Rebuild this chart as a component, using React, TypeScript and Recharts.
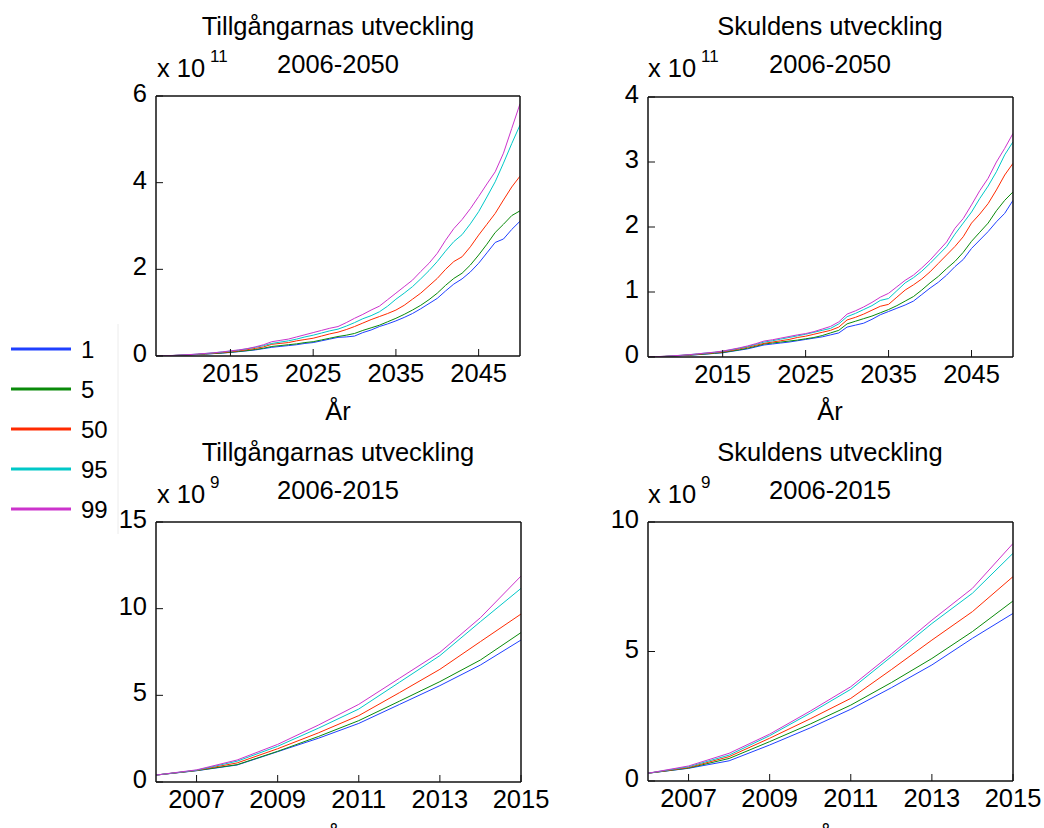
import { LineChart, Line, XAxis, YAxis, Legend } from "recharts";

const FONT = '"Liberation Sans", Arial, Helvetica, sans-serif';

const years = [
  2006, 2007, 2008, 2009, 2010, 2011, 2012, 2013, 2014, 2015,
  2016, 2017, 2018, 2019, 2020, 2021, 2022, 2023, 2024, 2025,
  2026, 2027, 2028, 2029, 2030, 2031, 2032, 2033, 2034, 2035,
  2036, 2037, 2038, 2039, 2040, 2041, 2042, 2043, 2044, 2045,
  2046, 2047, 2048, 2049, 2050,
];

const percentiles = ["1", "5", "50", "95", "99"];
const colors = ["#1f40ff", "#0a8a0a", "#ff2a00", "#00c8c8", "#cc33cc"];

// assets, in units of 10^9
const assets1 = [0.4, 0.65, 0.98, 1.75, 2.52, 3.38, 4.47, 5.56, 6.75, 8.19, 10, 12, 14, 17, 20, 22, 24, 26, 29, 31, 35, 39, 43, 44, 46, 54, 60, 68, 74, 81, 89, 98, 109, 121, 133, 150, 166, 178, 194, 214, 238, 262, 270, 292, 311];
const assets5 = [0.4, 0.66, 1.0, 1.77, 2.62, 3.54, 4.66, 5.79, 7.04, 8.62, 10.5, 12.5, 15, 18, 22, 24, 26, 28, 31, 33, 37, 41, 45, 48, 52, 59, 65, 71, 79, 87, 96, 106, 117, 130, 145, 163, 179, 191, 210, 233, 258, 285, 304, 324, 335];
const assets50 = [0.4, 0.67, 1.1, 1.92, 2.83, 3.83, 5.15, 6.5, 8.1, 9.69, 12, 14.5, 17.5, 21, 27, 29, 31, 35, 38, 41, 46, 51, 55, 61, 68, 76, 84, 91, 98, 106, 117, 131, 145, 162, 179, 200, 218, 229, 252, 279, 304, 329, 360, 390, 415];
const assets95 = [0.4, 0.68, 1.2, 2.06, 3.1, 4.21, 5.75, 7.29, 9.25, 11.17, 13.5, 16.5, 20, 24, 29, 32, 35, 39, 44, 48, 53, 58, 62, 69, 77, 86, 93, 102, 115, 131, 145, 160, 178, 197, 218, 242, 264, 280, 305, 333, 367, 402, 445, 490, 533];
const assets99 = [0.4, 0.7, 1.27, 2.17, 3.28, 4.48, 5.98, 7.48, 9.48, 11.88, 14, 17, 21, 26, 33, 36, 39, 44, 49, 54, 59, 64, 68, 77, 87, 96, 106, 115, 130, 145, 160, 175, 195, 214, 237, 267, 294, 315, 340, 368, 397, 425, 468, 525, 582];

// debt, in units of 10^9
const debt1 = [0.3, 0.49, 0.78, 1.39, 2.05, 2.77, 3.6, 4.48, 5.51, 6.47, 8.5, 10.5, 12.5, 15.5, 18.5, 20, 21.5, 23, 25, 27, 29, 31, 34, 37, 46, 49, 52, 58, 65, 70, 75, 80, 86, 96, 106, 115, 126, 139, 150, 167, 180, 193, 208, 221, 241];
const debt5 = [0.3, 0.5, 0.87, 1.52, 2.2, 2.93, 3.8, 4.73, 5.77, 6.95, 9, 11, 13.5, 16.5, 20, 21.5, 23, 24.5, 26, 28, 30, 33, 37, 41, 51, 55, 59, 63, 68, 73, 79, 86, 93, 103, 114, 124, 136, 147, 161, 178, 192, 206, 225, 241, 254];
const debt50 = [0.3, 0.52, 0.94, 1.65, 2.4, 3.19, 4.3, 5.44, 6.54, 7.89, 10, 12.5, 15, 18, 21, 23, 25, 27, 30, 32, 35, 38, 41, 46, 57, 61, 66, 72, 78, 81, 92, 103, 111, 120, 131, 144, 157, 170, 185, 206, 220, 236, 257, 280, 298];
const debt95 = [0.3, 0.55, 1.0, 1.75, 2.62, 3.54, 4.8, 6.08, 7.25, 8.79, 11, 13.5, 16, 19.5, 23, 25, 27.5, 30, 32.5, 35, 38, 41, 44, 51, 62, 67, 73, 79, 87, 90, 102, 114, 122, 132, 144, 157, 170, 189, 206, 223, 244, 263, 285, 311, 331];
const debt99 = [0.3, 0.58, 1.07, 1.81, 2.7, 3.64, 4.9, 6.21, 7.44, 9.17, 11.5, 14, 17, 20.5, 24.6, 26.5, 29, 31.5, 34, 36, 39, 43, 47, 54, 66, 71, 77, 84, 92, 98, 108, 118, 126, 137, 149, 163, 177, 198, 213, 234, 256, 275, 300, 321, 344];

const assetSeries = [assets1, assets5, assets50, assets95, assets99];
const debtSeries = [debt1, debt5, debt50, debt95, debt99];

const longTicks = [2015, 2025, 2035, 2045];
const shortTicks = [2007, 2009, 2011, 2013, 2015];

const longMinor: number[] = [];
for (let y = 2006; y <= 2050; y++) longMinor.push(y);
const shortMinor: number[] = [];
for (let k = 0; k <= 45; k++) shortMinor.push(2006 + k * 0.2);

function buildRows(series: number[][], count: number, scale: number) {
  return years.slice(0, count).map((year, i) => {
    const row: any = { year };
    series.forEach((s, j) => (row["p" + j] = s[i] / scale));
    return row;
  });
}

const FS = 25.5;

function LegendBox({ payload }: any) {
  return (
    <svg width={120} height={216} style={{ fontFamily: FONT }}>
      <line x1={118} x2={118} y1={4} y2={214} stroke="#ececec" />
      {(payload || []).map((p: any, i: number) => (
        <g key={i}>
          <line x1={11} x2={71} y1={29 + i * 40} y2={29 + i * 40} stroke={p.color} strokeWidth={3} />
          <text x={81} y={38 + i * 40} fontSize={24} fill="#000">
            {p.value}
          </text>
        </g>
      ))}
    </svg>
  );
}

type Box = { top: number; right: number; bottom: number; left: number };

type PanelProps = {
  left: number;
  top: number;
  width: number;
  height: number;
  plot: Box; // wanted plot box edges, inside the panel
  rows: any[];
  xDomain: [number, number];
  xTicks: number[];
  xMinor: number[];
  yDomain: [number, number];
  yTicks: number[];
  legend?: boolean;
};

function Panel(props: PanelProps) {
  const { left, top, width, height, plot, rows, xDomain, xTicks, xMinor, yDomain, yTicks, legend } = props;
  // every axis takes 1px; two on each horizontal side, one on each vertical side
  const margin = {
    top: plot.top - 2,
    bottom: height - plot.bottom - 2,
    left: plot.left - 1,
    right: width - plot.right - 1,
  };
  const xTick = (p: any) => (
    <text x={p.x} y={plot.bottom + 26} textAnchor="middle" fontSize={FS} fill="#000">
      {p.payload.value}
    </text>
  );
  const yTick = (p: any) => (
    <text x={plot.left - 9} y={p.y + 6} textAnchor="end" fontSize={FS} fill="#000">
      {p.payload.value}
    </text>
  );
  const common = {
    dataKey: "year",
    type: "number" as const,
    domain: xDomain,
    allowDataOverflow: true,
    interval: 0 as const,
    height: 1,
    stroke: "#111",
  };
  return (
    <div style={{ position: "absolute", left, top }}>
      <LineChart width={width} height={height} data={rows} margin={margin}>
        <XAxis xAxisId="b" {...common} ticks={xTicks} tickSize={-7} tick={xTick} axisLine={{ strokeWidth: 1.5 }} />
        <XAxis xAxisId="bm" {...common} ticks={xMinor} tickSize={-4} tick={false} axisLine={false} />
        <XAxis xAxisId="t" orientation="top" {...common} ticks={xTicks} tickSize={-7} tick={false} axisLine={{ strokeWidth: 1.5 }} />
        <XAxis xAxisId="tm" orientation="top" {...common} ticks={xMinor} tickSize={-4} tick={false} axisLine={false} />
        <YAxis yAxisId="l" type="number" domain={yDomain} ticks={yTicks} allowDataOverflow interval={0} width={1} tickSize={-7} tick={yTick} stroke="#111" axisLine={{ strokeWidth: 1.5 }} />
        <YAxis yAxisId="r" orientation="right" type="number" domain={yDomain} ticks={yTicks} allowDataOverflow interval={0} width={1} tickSize={-7} tick={false} stroke="#111" axisLine={{ strokeWidth: 1.5 }} />
        {percentiles.map((name, j) => (
          <Line
            key={name}
            xAxisId="b"
            yAxisId="l"
            dataKey={"p" + j}
            name={name}
            stroke={colors[j]}
            strokeWidth={1}
            dot={false}
            type="linear"
            isAnimationActive={false}
          />
        ))}
        {legend && (
          <Legend
            layout="vertical"
            align="center"
            verticalAlign="middle"
            content={<LegendBox />}
            wrapperStyle={{ position: "absolute", left: 0, top: 320, width: 120, height: 216 }}
          />
        )}
      </LineChart>
    </div>
  );
}

function Exponent({ x, y, exp }: { x: number; y: number; exp: string }) {
  return (
    <>
      <text x={x} y={y} fontSize={FS}>x 10</text>
      <text x={x + 53} y={y - 15} fontSize={17}>{exp}</text>
    </>
  );
}

export default function App() {
  const topAssets = buildRows(assetSeries, 45, 100);
  const topDebt = buildRows(debtSeries, 45, 100);
  const lowAssets = buildRows(assetSeries, 10, 1);
  const lowDebt = buildRows(debtSeries, 10, 1);
  return (
    <div style={{ position: "absolute", left: 0, top: 0, width: 1044, height: 828, background: "#fff", fontFamily: FONT, overflow: "hidden" }}>
      <Panel left={0} top={0} width={570} height={440} plot={{ top: 96, right: 520, bottom: 356, left: 156 }}
        rows={topAssets} xDomain={[2006, 2050]} xTicks={longTicks} xMinor={longMinor} yDomain={[0, 6]} yTicks={[0, 2, 4, 6]} legend />
      <Panel left={0} top={440} width={570} height={388} plot={{ top: 82, right: 521, bottom: 342, left: 156 }}
        rows={lowAssets} xDomain={[2006, 2015]} xTicks={shortTicks} xMinor={shortMinor} yDomain={[0, 15]} yTicks={[0, 5, 10, 15]} />
      <Panel left={570} top={0} width={474} height={440} plot={{ top: 97, right: 443, bottom: 357, left: 78 }}
        rows={topDebt} xDomain={[2006, 2050]} xTicks={longTicks} xMinor={longMinor} yDomain={[0, 4]} yTicks={[0, 1, 2, 3, 4]} />
      <Panel left={570} top={440} width={474} height={388} plot={{ top: 82, right: 443, bottom: 341, left: 78 }}
        rows={lowDebt} xDomain={[2006, 2015]} xTicks={shortTicks} xMinor={shortMinor} yDomain={[0, 10]} yTicks={[0, 5, 10]} />
      <svg width={1044} height={828} style={{ position: "absolute", left: 0, top: 0, pointerEvents: "none", fontFamily: FONT }}>
        <g fill="#000" textAnchor="middle" fontSize={FS}>
          <text x={338} y={35}>Tillgångarnas utveckling</text>
          <text x={338} y={73}>2006-2050</text>
          <text x={830} y={35}>Skuldens utveckling</text>
          <text x={830} y={73}>2006-2050</text>
          <text x={338} y={461}>Tillgångarnas utveckling</text>
          <text x={338} y={499}>2006-2015</text>
          <text x={830} y={461}>Skuldens utveckling</text>
          <text x={830} y={499}>2006-2015</text>
          <text x={338} y={420}>År</text>
          <text x={830} y={420}>År</text>
          <text x={338} y={846}>År</text>
          <text x={830} y={846}>År</text>
        </g>
        <g fill="#000">
          <Exponent x={157} y={77} exp="11" />
          <Exponent x={648} y={77} exp="11" />
          <Exponent x={157} y={503} exp="9" />
          <Exponent x={648} y={503} exp="9" />
        </g>
      </svg>
    </div>
  );
}
